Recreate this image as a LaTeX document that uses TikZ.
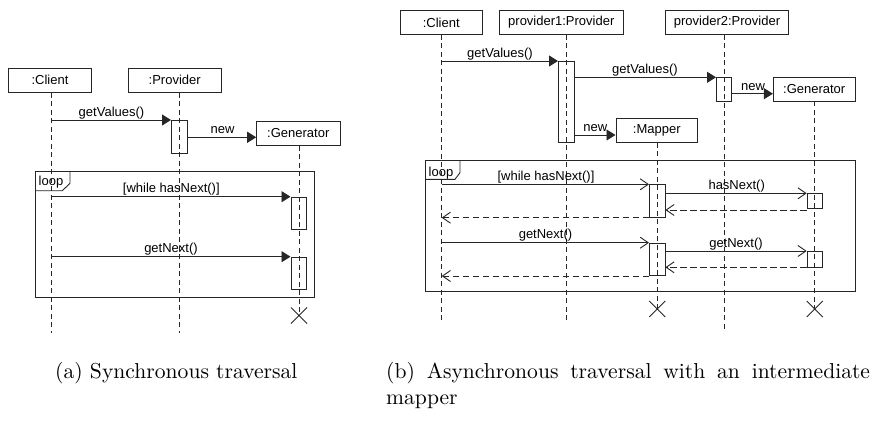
\documentclass[tikz,border=0pt]{standalone}
\usepackage{fontspec}
\usepackage{graphicx}
\usetikzlibrary{arrows.meta}
\newfontfamily\diagfont{Liberation Sans}
\newcommand\dfont{\diagfont\fontsize{13}{15}\selectfont}
\tikzset{
  ln/.style={draw=black!85, line width=0.9pt},
  obj/.style={ln, font=\dfont, inner sep=0pt, minimum height=24pt},
  act/.style={ln, inner sep=0pt, anchor=north west, minimum width=15.5pt},
  life/.style={ln, dash pattern=on 5pt off 3.5pt},
  call/.style={ln, -{Triangle[length=9pt,width=11pt]}},
  async/.style={ln, -{Straight Barb[length=8pt,width=11pt]}},
  reply/.style={async, dash pattern=on 6.5pt off 3.5pt},
  msg/.style={font=\dfont, anchor=base, inner sep=0pt},
  loopframe/.style={ln, line width=1pt, inner sep=0pt, anchor=north west},
  cross/.style={ln},
  caption/.style={anchor=base west, inner sep=0pt, font=\fontsize{10}{12}\selectfont}
}
\begin{document}
\begin{tikzpicture}[x=1pt, y=-1pt]
\useasboundingbox (0,0) rectangle (873,431);

% ---------------- (a) synchronous traversal ----------------
\node[loopframe, minimum width=279.3pt, minimum height=126.3pt] (aloop) at (35,171) {};
\draw[ln] (aloop.north west) ++(35,0) -- ++(0,12.3) -- ++(-7.7,7.4) -- ++(-27.3,0);
\node[msg, anchor=base west] (aloopl) at (38.5,185) {loop};

\node[obj, minimum width=83.4pt] (acl) at (50,80.3) {:Client};
\node[obj, minimum width=92.7pt] (apr) at (174.7,80.3) {:Provider};
\node[obj, minimum width=83.3pt] (agen) at (298.3,133.3) {:Generator};

\node[act, minimum height=32.7pt] (apact) at (171,120) {};
\node[act, minimum height=32.6pt] (agact1) at (290.5,196.7) {};
\node[act, minimum height=32.3pt] (agact2) at (290.5,256.7) {};

\coordinate (aclend) at (51.7,332.7);
\coordinate (aprend) at (179.3,332.7);
\coordinate (agenx) at (299,315.5);
\draw[life] (acl.south -| aclend) -- (aclend);
\draw[life] (apr.south -| aprend) -- (aprend);
\draw[life] (agen.south -| agenx) -- (agenx);
\draw[cross] (agenx) ++(-8,-8) -- ++(16,16) (agenx) ++(-8,8) -- ++(16,-16);

\coordinate (am1) at (51.7,120);
\draw[call] (am1) -- (apact.north west);
\node[msg] (am1l) at (111.5,116) {getValues()};

\coordinate (am2) at (185.7,137.3);
\draw[call] (am2 -| apact.east) -- (am2 -| agen.west);
\node[msg] (am2l) at (222.5,133.5) {new};

\coordinate (am3) at (51.7,196.7);
\draw[call] (am3) -- (agact1.north west);
\node[msg] (am3l) at (171.3,192.7) {[while hasNext()]};

\coordinate (am4) at (51.7,256.7);
\draw[call] (am4) -- (agact2.north west);
\node[msg] (am4l) at (171,252.7) {getNext()};

% ---------------- (b) asynchronous traversal ----------------
\node[loopframe, minimum width=430.3pt, minimum height=131pt] (bloop) at (425,160) {};
\draw[ln] (bloop.north west) ++(35,0) -- ++(0,12.7) -- ++(-5,6.6) -- ++(-30,0);
\node[msg, anchor=base west] (bloopl) at (428.5,176) {loop};

\node[obj, minimum width=82.3pt] (bcl) at (441.2,22.5) {:Client};
\node[obj, minimum width=124pt] (bp1) at (561.3,22.5) {provider1:Provider};
\node[obj, minimum width=122.6pt] (bp2) at (727,22.5) {provider2:Provider};
\node[obj, minimum width=81.7pt] (bgen) at (814.2,89) {:Generator};
\node[obj, minimum width=81.7pt] (bmap) at (656.8,130.3) {:Mapper};

\node[act, minimum height=81pt] (bp1act) at (558,61) {};
\node[act, minimum height=23.4pt, minimum width=15pt] (bp2act) at (716,77.3) {};
\node[act, minimum height=32.4pt] (bmact1) at (649,184.3) {};
\node[act, minimum height=32.3pt] (bmact2) at (649,242.7) {};
\node[act, minimum height=15pt] (bgact1) at (806.7,193.3) {};
\node[act, minimum height=15.7pt] (bgact2) at (806.7,251) {};

\coordinate (bclend) at (441.7,323);
\coordinate (bp1end) at (566,323);
\coordinate (bp2end) at (724,331);
\coordinate (bmapx) at (657.3,309);
\coordinate (bgenx) at (814.8,309);
\draw[life] (bcl.south -| bclend) -- (bclend);
\draw[life] (bp1.south -| bp1end) -- (bp1end);
\draw[life] (bp2.south -| bp2end) -- (bp2end);
\draw[life] (bmap.south -| bmapx) -- (bmapx);
\draw[life] (bgen.south -| bgenx) -- (bgenx);
\draw[cross] (bmapx) ++(-8,-8) -- ++(16,16) (bmapx) ++(-8,8) -- ++(16,-16);
\draw[cross] (bgenx) ++(-8,-8) -- ++(16,16) (bgenx) ++(-8,8) -- ++(16,-16);

% creation phase
\coordinate (bm1) at (441.7,61);
\draw[call] (bm1) -- (bp1act.north west);
\node[msg] (bm1l) at (500,57) {getValues()};

\coordinate (bm2) at (573.5,77.3);
\draw[call] (bm2 -| bp1act.east) -- (bp2act.north west);
\node[msg] (bm2l) at (645,73.3) {getValues()};

\coordinate (bm3) at (731,93.7);
\draw[call] (bm3 -| bp2act.east) -- (bm3 -| bgen.west);
\node[msg] (bm3l) at (753,90.3) {new};

\coordinate (bm4) at (573.5,135);
\draw[call] (bm4 -| bp1act.east) -- (bm4 -| bmap.west);
\node[msg] (bm4l) at (595.3,131.5) {new};

% loop body
\coordinate (bq1) at (441.7,184.3);
\draw[async] (bq1) -- (bmact1.north west);
\node[msg] (bq1l) at (546,180.3) {[while hasNext()]};

\coordinate (bq2) at (664.5,193.3);
\draw[async] (bq2 -| bmact1.east) -- (bgact1.north west);
\node[msg] (bq2l) at (736.7,189.3) {hasNext()};

\coordinate (br1) at (806.7,210);
\draw[reply] (br1) -- (br1 -| bmact1.east);
\coordinate (br2) at (649,217.7);
\draw[reply] (br2) -- (br2 -| bq1);

\coordinate (bq3) at (441.7,242.7);
\draw[async] (bq3) -- (bmact2.north west);
\node[msg] (bq3l) at (545.5,238.7) {getNext()};

\coordinate (bq4) at (664.5,251);
\draw[async] (bq4 -| bmact2.east) -- (bgact2.north west);
\node[msg] (bq4l) at (736,247) {getNext()};

\coordinate (br3) at (806.7,267.3);
\draw[reply] (br3) -- (br3 -| bmact2.east);
\coordinate (br4) at (649,276);
\draw[reply] (br4) -- (br4 -| bq3);

% ---------------- captions ----------------
\node[caption] (capa) at (55,378) {\scalebox{2.16}{(a) Synchronous traversal}};
\node[caption] (capb) at (386,378) {\scalebox{2.16}{\makebox[224pt][s]{(b)\ Asynchronous traversal with an intermediate}}};
\node[caption] (capb2) at (386,404) {\scalebox{2.16}{mapper}};
\end{tikzpicture}
\end{document}
